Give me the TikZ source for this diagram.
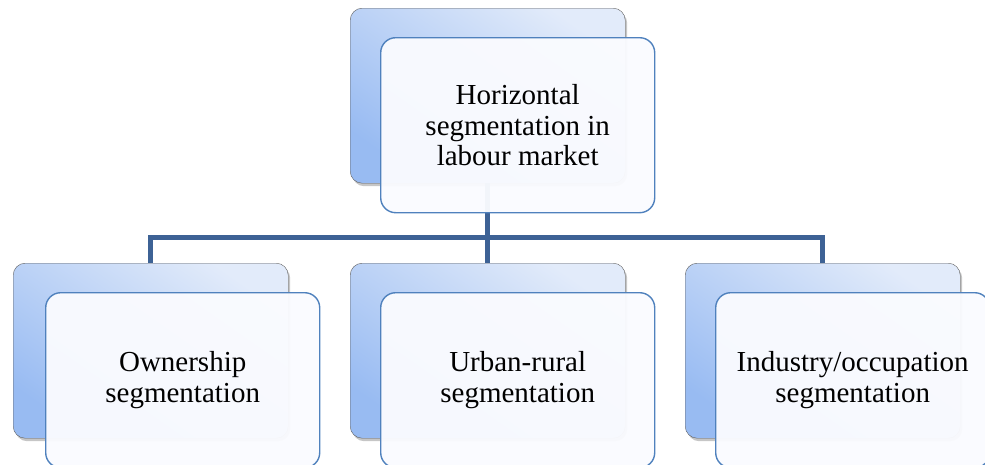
\documentclass[tikz,border=0pt]{standalone}
\usepackage{fontspec}
\setmainfont{Liberation Serif}
\usetikzlibrary{positioning,shadows}
\definecolor{busblue}{HTML}{3D6295}
\definecolor{frameblue}{HTML}{4F81BD}
\definecolor{boxtop}{HTML}{E2EBFA}
\definecolor{boxbot}{HTML}{98BBF2}
\definecolor{boxfill}{HTML}{FAFBFF}

\begin{document}
\begin{tikzpicture}[x=1pt,y=-1pt,
  backbox/.style={draw=gray!75!black,rounded corners=12pt,minimum width=275pt,minimum height=175pt,
    anchor=north west,top color=boxtop,bottom color=boxbot,shading angle=-35,
    drop shadow={shadow xshift=2pt,shadow yshift=-3pt,opacity=0.45}},
  frontbox/.style={draw=frameblue,line width=1.4pt,rounded corners=15pt,minimum width=274pt,minimum height=175pt,
    anchor=north west,fill=boxfill,fill opacity=0.96,text opacity=1,align=center,
    font=\fontsize{29}{30.5}\selectfont},
  bus/.style={draw=busblue,line width=5pt}]

\useasboundingbox (0,0) rectangle (985,464);

% back boxes
\node[backbox](topback)at(350,8){};
\node[backbox](ownback)at(13,263){};
\node[backbox](urbback)at(350,263){};
\node[backbox](indback)at(685,263){};

% connectors
\coordinate(split)at(topback.south|-0,237);
\draw[bus](topback.south)--(split);
\draw[bus](split)-|(ownback.north);
\draw[bus](split)-|(indback.north);
\draw[bus](split)--(urbback.north);

% front boxes
\node[frontbox](top)at(380,37){Horizontal\\segmentation in\\labour market};
\node[frontbox](own)at(45,292){Ownership\\segmentation};
\node[frontbox](urb)at(380,292){Urban-rural\\segmentation};
\node[frontbox](ind)at(715,292){Industry/occupation\\segmentation};
\end{tikzpicture}
\end{document}
